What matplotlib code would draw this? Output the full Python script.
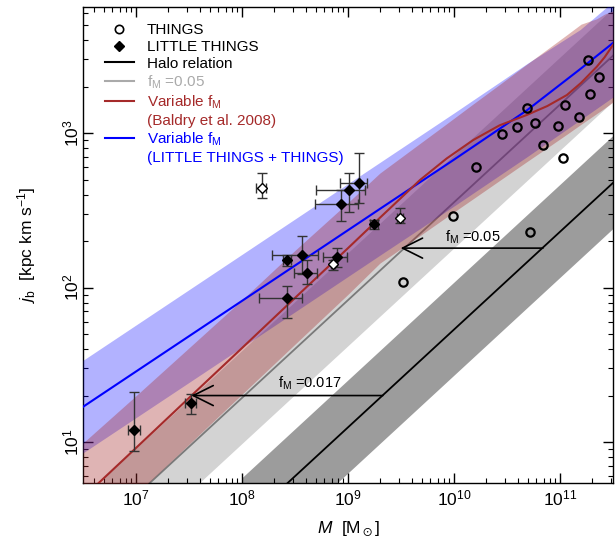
import numpy as np
import matplotlib
matplotlib.use('Agg')
import matplotlib.pyplot as plt
import matplotlib.transforms as mtransforms
from matplotlib.lines import Line2D

plt.rcParams['font.family'] = ['Liberation Sans', 'DejaVu Sans']
plt.rcParams['mathtext.fontset'] = 'custom'
plt.rcParams['mathtext.rm'] = 'Liberation Sans'
plt.rcParams['mathtext.it'] = 'Liberation Sans:italic'
plt.rcParams['mathtext.default'] = 'regular'

# THINGS galaxies (open circles)
things_M = [1.85e11, 2.35e11, 1.92e11, 1.11e11, 1.51e11, 9.6e10, 4.85e10, 5.8e10,
            3.9e10, 2.85e10, 6.9e10, 1.07e11, 1.62e10, 9.7e9, 5.2e10, 3.3e9]
things_j = [2970, 2310, 1780, 1520, 1275, 1105, 1445, 1155,
            1090, 980, 835, 690, 600, 292, 228, 109]

# LITTLE THINGS (filled diamonds), value and lower/upper error ends
lt_M = [9.6e6, 3.3e7, 2.65e8, 2.65e8, 3.65e8, 4.1e8, 7.9e8, 1.76e9, 8.5e8, 1.02e9, 1.26e9]
lt_M_lo = [8.4e6, 2.9e7, 1.45e8, 2.42e8, 1.9e8, 3.1e8, 5.8e8, 1.62e9, 4.9e8, 5.0e8, 8.4e8]
lt_M_hi = [1.1e7, 3.65e7, 3.7e8, 2.88e8, 5.2e8, 5.1e8, 9.8e8, 1.9e9, 1.24e9, 1.45e9, 1.5e9]
lt_j = [12.0, 17.8, 85, 150, 162, 125, 158, 256, 346, 428, 474]
lt_j_lo = [8.8, 15.3, 64, 138, 122, 105, 135, 240, 270, 307, 352]
lt_j_hi = [21.2, 20.6, 103, 162, 215, 151, 181, 274, 428, 548, 740]

# LITTLE THINGS drawn as open diamonds
lto_M = [1.55e8, 7.2e8, 3.1e9]
lto_M_lo = [1.36e8, 6.9e8, 2.9e9]
lto_M_hi = [1.69e8, 7.5e8, 3.3e9]
lto_j = [443, 142, 282]
lto_j_lo = [379, 130, 262]
lto_j_hi = [551, 151, 327]

# halo relation and f_M = 0.05 relation with their bands
halo_M = [1e8, 1e13]
halo_j = [2.9, 4236]
halo_j_lo = [1.45, 2118]
halo_j_hi = [5.8, 8472]
f05_M = [5e6, 5e11]

# variable f_M (Baldry et al. 2008)
red_M = [3.16e6, 1e7, 3.16e7, 1e8, 3.16e8, 1e9, 2.0e9, 4.78e9, 8.51e9, 1.52e10, 2.69e10,
         4.85e10, 7.59e10, 1.16e11, 1.58e11, 2.22e11, 2.63e11, 3.16e11]
red_j = [4.36, 9.16, 19.3, 40.6, 85.7, 180, 283, 497, 684, 902, 1122,
         1309, 1496, 1762, 2113, 2685, 3090, 3715]
red_j_lo = [2.18, 4.59, 9.68, 20.4, 43.0, 90.4, 144, 217, 286, 376, 493,
            652, 804, 982, 1140, 1337, 1449, 1585]
red_j_hi = [9.86, 19.95, 40.7, 83.2, 174, 355, 551, 857, 1148, 1545, 2061,
            2786, 3491, 4325, 5070, 5495, 5888, 6166]

# variable f_M (LITTLE THINGS + THINGS)
blue_M = [3.16e6, 1e8, 2.0e9, 1e10, 4.89e10, 1.55e11, 3.16e11]
blue_j = [16.9, 82.0, 323, 673, 1406, 2594, 3828]
blue_j_lo = [8.51, 41.1, 162, 337, 703, 1216, 1710]
blue_j_hi = [33.8, 164, 646, 1349, 2818, 4677, 7080]

yticks = [10, 100, 1000]
ytick_labels = ['$10^1$', '$10^2$', '$10^3$']

fig = plt.figure(figsize=(6.16, 5.46), dpi=100)
ax = fig.add_axes([83/616, 63/546, 530/616, 476/546])
ax.set_xscale('log')
ax.set_yscale('log')

# grey bands and lines
ax.fill_between(halo_M, halo_j_lo, halo_j_hi, color='#9c9c9c', lw=0, zorder=1)
ax.fill_between(f05_M, halo_j_lo, halo_j_hi, color='#d3d3d3', lw=0, zorder=1)
ax.plot(halo_M, halo_j, color='black', lw=1.3, zorder=2)
ax.plot(f05_M, halo_j, color='#7a7a7a', lw=1.3, zorder=2)

# variable f_M bands
ax.fill_between(blue_M, blue_j_lo, blue_j_hi, color='blue', alpha=0.3, lw=0, zorder=3)
ax.fill_between(red_M, red_j_lo, red_j_hi, color='#a52a2a', alpha=0.35, lw=0, zorder=3)
ax.plot(blue_M, blue_j, color='blue', lw=1.5, zorder=4)
ax.plot(red_M, red_j, color='#a52a2a', lw=1.5, zorder=4)

# data
lt_M_a = np.array(lt_M); lt_j_a = np.array(lt_j)
ax.errorbar(lt_M, lt_j,
            xerr=[lt_M_a - lt_M_lo, np.array(lt_M_hi) - lt_M_a],
            yerr=[lt_j_a - lt_j_lo, np.array(lt_j_hi) - lt_j_a],
            fmt='none', ecolor='#333333', elinewidth=1.0, capsize=3.5, capthick=1.0, zorder=5)
lto_M_a = np.array(lto_M); lto_j_a = np.array(lto_j)
ax.errorbar(lto_M, lto_j,
            xerr=[lto_M_a - lto_M_lo, np.array(lto_M_hi) - lto_M_a],
            yerr=[lto_j_a - lto_j_lo, np.array(lto_j_hi) - lto_j_a],
            fmt='none', ecolor='#333333', elinewidth=1.0, capsize=3.5, capthick=1.0, zorder=5)
ax.plot(lt_M, lt_j, 'D', color='black', ms=5.5, zorder=6)
ax.plot(lto_M, lto_j, 'D', mfc='white', mec='black', mew=1.0, ms=5.5, zorder=6)
ax.plot(things_M, things_j, 'o', mfc='none', mec='black', mew=1.6, ms=6, zorder=6)

# arrows
arr = dict(arrowstyle='->, head_length=1.2, head_width=0.6', color='black', lw=1.2,
           mutation_scale=12, shrinkA=0, shrinkB=0)
ax.annotate('', xy=(3.33e7, 20), xytext=(2.13e9, 20), arrowprops=arr, zorder=7)
ax.annotate('', xy=(3.14e9, 180), xytext=(6.9e10, 180), arrowprops=arr, zorder=7)
ax.text(4.36e8, 24, 'f$_M$ =0.017', ha='center', va='center', fontsize=10.5)
ax.text(1.5e10, 213, 'f$_M$ =0.05', ha='center', va='center', fontsize=10.5)

ax.set_xlim(10**6.5, 10**11.5)
ax.set_ylim(10**0.735, 10**3.816)

ax.tick_params(which='both', direction='in', top=True, right=True, labelsize=12.5)
ax.tick_params(which='major', length=7, width=1.0)
ax.tick_params(which='minor', length=3.5, width=0.8)
ax.tick_params(axis='x', pad=4)
ax.set_yticks(yticks)
ax.tick_params(axis='y', labelleft=False)
ytrans = mtransforms.blended_transform_factory(ax.transAxes, ax.transData)
for v, s in zip(yticks, ytick_labels):
    ax.text(-0.022, v, s, transform=ytrans, rotation=90, ha='center', va='center', fontsize=12.5)
for s in ax.spines.values():
    s.set_linewidth(1.0)

ax.set_xlabel(r'$\mathit{M}$  [M$_\odot$]', fontsize=12.5, labelpad=8)
ax.set_ylabel(r'$\mathit{j}_b$  [kpc km s$^{-1}$]', fontsize=12.5)
ax.yaxis.set_label_coords(-0.085, 0.5)

handles = [
    Line2D([], [], ls='none', marker='o', mfc='none', mec='black', mew=1.2, ms=6),
    Line2D([], [], ls='none', marker='D', color='black', ms=5),
    Line2D([], [], color='black', lw=1.5),
    Line2D([], [], color='#aaaaaa', lw=1.5),
    Line2D([], [], color='#a52a2a', lw=1.5),
    Line2D([], [], ls='none'),
    Line2D([], [], color='blue', lw=1.5),
    Line2D([], [], ls='none'),
]
labels = ['THINGS', 'LITTLE THINGS', 'Halo relation', 'f$_M$ =0.05', 'Variable f$_M$',
          '(Baldry et al. 2008)', 'Variable f$_M$', '(LITTLE THINGS + THINGS)']
colors = ['black', 'black', 'black', '#aaaaaa', '#a52a2a', '#a52a2a', 'blue', 'blue']
leg = ax.legend(handles, labels, loc='upper left', frameon=False, fontsize=11,
                labelcolor=colors, handlelength=1.9, handletextpad=0.85,
                labelspacing=0.18, borderaxespad=0.5, bbox_to_anchor=(0.015, 0.995))
leg.set_zorder(10)

fig.savefig('out.png', dpi=100)
